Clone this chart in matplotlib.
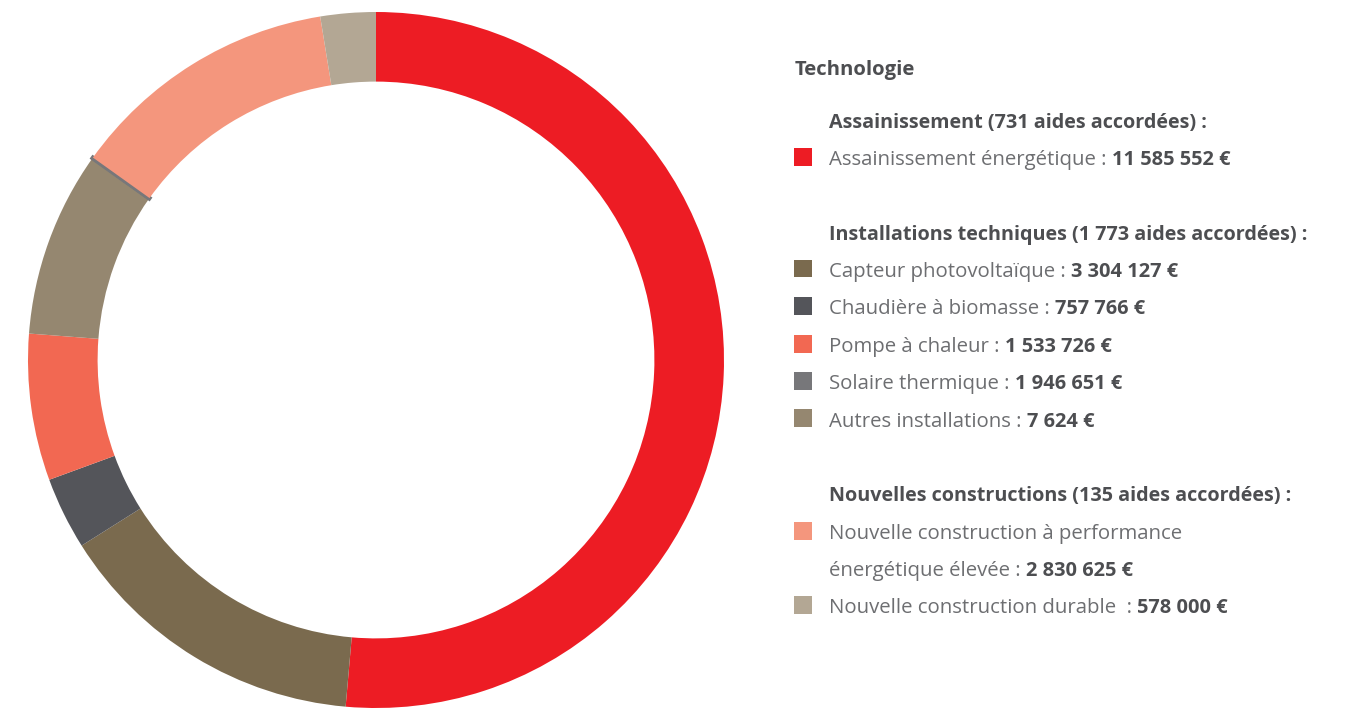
import matplotlib
matplotlib.use("Agg")
import matplotlib.pyplot as plt

# ---------------- data ----------------
labels = [
    "Assainissement énergétique",
    "Capteur photovoltaïque",
    "Chaudière à biomasse",
    "Pompe à chaleur",
    "Solaire thermique",
    "Autres installations",
    "Nouvelle construction à performance\nénergétique élevée",
    "Nouvelle construction durable ",
]
values = [11585552, 3304127, 757766, 1533726, 1946651, 7624, 2830625, 578000]
value_labels = ["11 585 552 €", "3 304 127 €", "757 766 €", "1 533 726 €",
                "1 946 651 €", "7 624 €", "2 830 625 €", "578 000 €"]
groups = ["Assainissement (731 aides accordées) :",
          "Installations techniques (1 773 aides accordées) :",
          "Nouvelles constructions (135 aides accordées) :"]
group_members = [[0], [1, 2, 3, 4, 5], [6, 7]]
legend_title = "Technologie"

legend_colors = ["#ED1C24", "#7A6A4E", "#54555A", "#F26852", "#77777A",
                 "#958770", "#F4967D", "#B3A794"]
slice_colors = ["#ED1C24", "#7A6A4E", "#54555A", "#F26852", "#958770",
                "#77777A", "#F4967D", "#B3A794"]

W, H = 1345, 709
fig = plt.figure(figsize=(W / 100, H / 100), dpi=100)
fig.patch.set_facecolor("white")

# ---------------- donut ----------------
cx, cy, R = 376, 360, 348
ax = fig.add_axes([(cx - R) / W, (H - cy - R) / H, 2 * R / W, 2 * R / H])
wedges, _ = ax.pie(values, colors=slice_colors, startangle=90, counterclock=False,
                   radius=1.0, wedgeprops=dict(width=0.2, linewidth=0))
# make tiny slice visible like in the reference
wedges[5].set_edgecolor(slice_colors[5])
wedges[5].set_linewidth(3)
ax.set_xlim(-1, 1)
ax.set_ylim(-1, 1)
ax.set_aspect("auto")
ax.axis("off")

# ---------------- legend (custom text) ----------------
FONT = "Open Sans"
FS_REG = 14.7
FS_BOLD = 14.4
FS_HEAD = 14.2
reg_color = "#6D6E71"
bold_color = "#4D4E51"

renderer = fig.canvas.get_renderer()

def px(x, y):
    return x / W, 1 - y / H

def put(x, y, s, bold=False, size=None):
    t = fig.text(*px(x, y), s, fontsize=size or (FS_BOLD if bold else FS_REG),
                 family=FONT, fontweight="bold" if bold else "normal",
                 color=bold_color if bold else reg_color,
                 va="baseline", ha="left")
    return t

def width_px(t):
    return t.get_window_extent(renderer=renderer).width

put(795, 75, legend_title, bold=True, size=14.6)

group_base = [128, 240, 501]
item_base = [[165], [277, 314, 352, 389, 427], [539, 613]]
text_x = 829
sq_x = 794
sq = 18

for g, gb in enumerate(group_base):
    put(text_x, gb, groups[g], bold=True, size=FS_HEAD)
    for k, idx in enumerate(group_members[g]):
        b = item_base[g][k]
        top = b - 17.5
        fig.add_artist(plt.Rectangle(px(sq_x, top + sq), sq / W, sq / H,
                                     transform=fig.transFigure,
                                     facecolor=legend_colors[idx], edgecolor="none"))
        lines = labels[idx].split("\n")
        ly = b
        for li, line in enumerate(lines):
            if li < len(lines) - 1:
                put(text_x, ly, line)
                ly += 37
            else:
                t = put(text_x, ly, line + " : ")
                w = width_px(t)
                put(text_x + w, ly, value_labels[idx], bold=True)

fig.savefig("out.png", dpi=100, facecolor="white")
